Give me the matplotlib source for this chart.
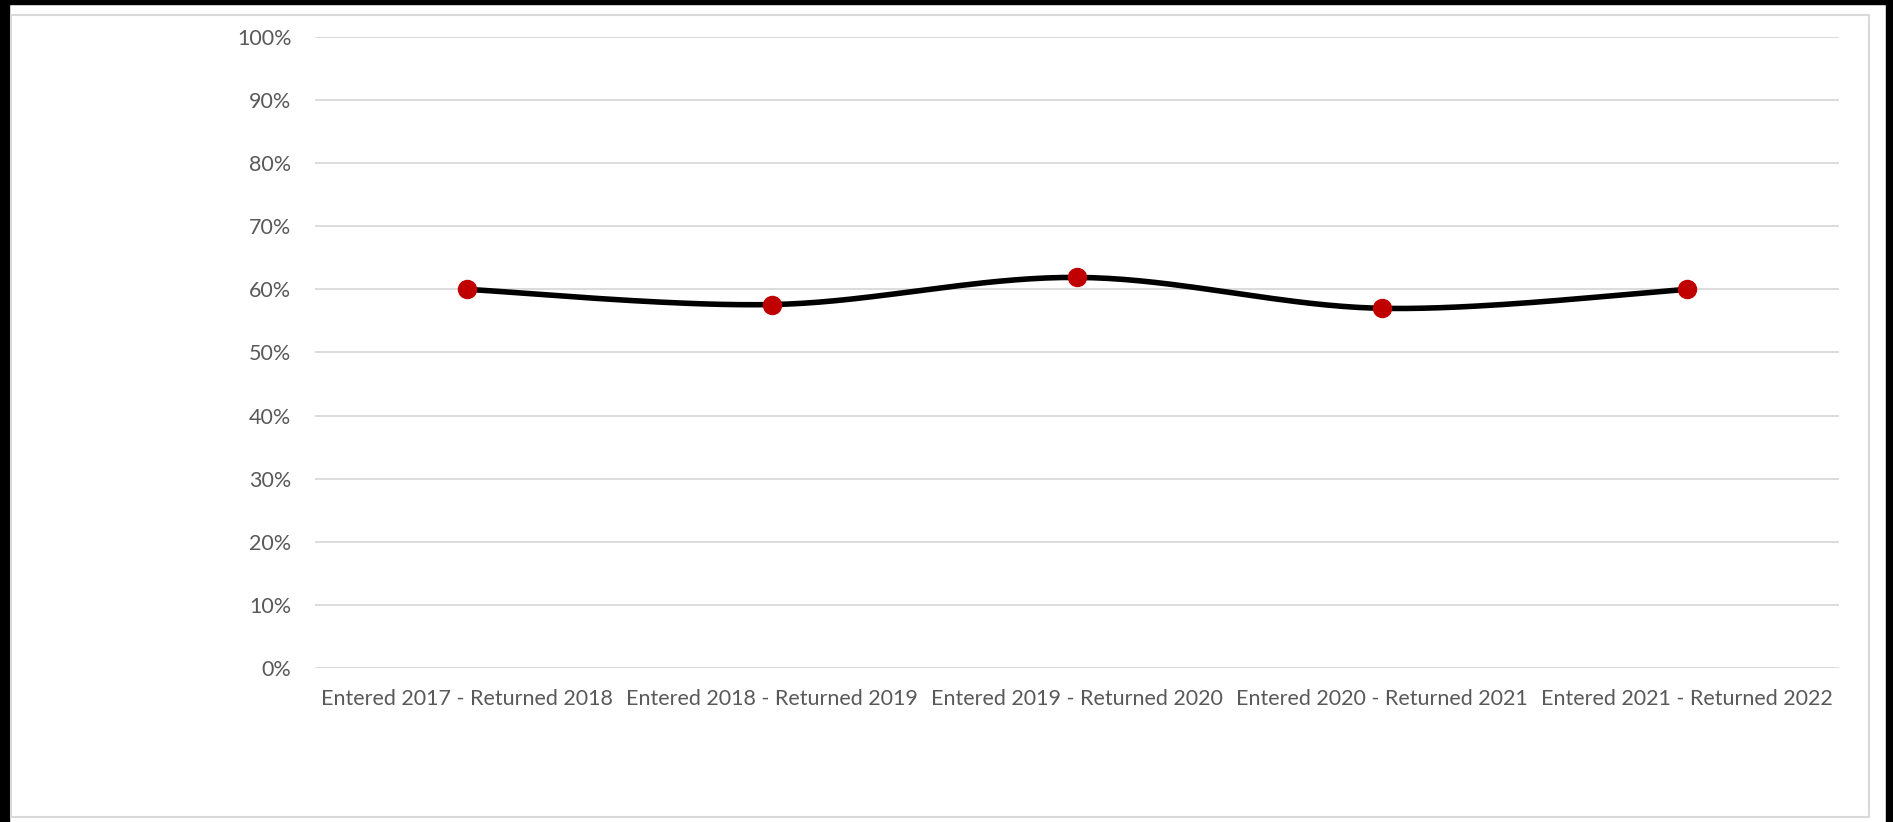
import matplotlib
matplotlib.use("Agg")
import matplotlib.pyplot as plt
from matplotlib.patches import Rectangle
from matplotlib.ticker import PercentFormatter
import numpy as np

categories = [
    "Entered 2017 - Returned 2018",
    "Entered 2018 - Returned 2019",
    "Entered 2019 - Returned 2020",
    "Entered 2020 - Returned 2021",
    "Entered 2021 - Returned 2022",
]
return_rate = [0.60, 0.576, 0.619, 0.570, 0.60]
y_ticks = [0.0, 0.1, 0.2, 0.3, 0.4, 0.5, 0.6, 0.7, 0.8, 0.9, 1.0]


def smooth(xs, ys, steps=40):
    # excel-ish smoothed line: bezier segments with catmull-rom control points
    pts = np.column_stack([xs, ys]).astype(float)
    out = [pts[0]]
    n = len(pts)
    for i in range(n - 1):
        p0 = pts[max(i - 1, 0)]
        p1 = pts[i]
        p2 = pts[i + 1]
        p3 = pts[min(i + 2, n - 1)]
        c1 = p1 + (p2 - p0) / 6
        c2 = p2 - (p3 - p1) / 6
        t = np.linspace(0, 1, steps)[1:, None]
        seg = ((1 - t) ** 3) * p1 + 3 * ((1 - t) ** 2) * t * c1 + 3 * (1 - t) * t ** 2 * c2 + t ** 3 * p2
        out.extend(seg)
    out = np.array(out)
    return out[:, 0], out[:, 1]


plt.rcParams["font.family"] = ["Lato", "DejaVu Sans"]

fig = plt.figure(figsize=(18.93, 8.22), dpi=100)
fig.patch.set_facecolor("white")

# outer black frame (top, left, right) and the light grey chart border
fig.patches.append(Rectangle((0, 1 - 4 / 822), 1, 4 / 822, transform=fig.transFigure, color="black", zorder=0))
fig.patches.append(Rectangle((0, 0), 9 / 1893, 1, transform=fig.transFigure, color="black", zorder=0))
fig.patches.append(Rectangle((1886 / 1893, 0), 7 / 1893, 1, transform=fig.transFigure, color="black", zorder=0))
fig.patches.append(Rectangle((10.5 / 1893, 5 / 822), 1858 / 1893, 802 / 822, transform=fig.transFigure,
                             fill=False, edgecolor="#d9d9d9", linewidth=1.5, zorder=0))

ax = fig.add_axes([315 / 1893, 1 - 668 / 822, 1524 / 1893, 631 / 822])
x = np.arange(len(categories))

sx, sy = smooth(x, return_rate)
ax.plot(sx, sy, color="black", linewidth=4, solid_capstyle="round", zorder=3)
ax.plot(x, return_rate, linestyle="none", marker="o", markersize=13,
        markerfacecolor="#c00000", markeredgecolor="#c00000", zorder=4)

ax.set_xlim(-0.5, len(categories) - 0.5)
ax.set_ylim(0, 1)
ax.set_yticks(y_ticks)
ax.yaxis.set_major_formatter(PercentFormatter(1.0, decimals=0))
ax.set_xticks(x)
ax.set_xticklabels(categories)
ax.grid(axis="y", color="#d9d9d9", linewidth=1.3)
ax.set_axisbelow(True)
for s in ax.spines.values():
    s.set_visible(False)
ax.tick_params(axis="both", length=0, labelsize=15.5, colors="#595959")
ax.tick_params(axis="y", pad=17)
ax.tick_params(axis="x", pad=15)

fig.savefig("out.png", dpi=100)
